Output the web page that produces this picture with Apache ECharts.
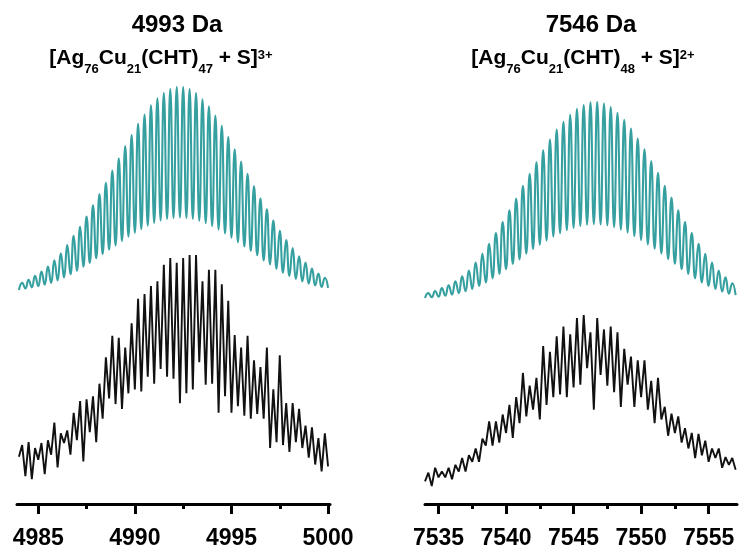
<!DOCTYPE html>
<html>
<head>
<meta charset="utf-8">
<script src="https://cdn.jsdelivr.net/npm/echarts/dist/echarts.min.js"></script>
<style>
  html, body { margin: 0; padding: 0; background: #ffffff; }
  #chart { width: 739px; height: 550px; }
</style>
</head>
<body>
<div id="chart"></div>
<script>
// ---- isotope patterns: relative intensity (%) at peak tops and valleys ----
// 4993 Da, charge 3+ (isotope spacing 1/3 Da), first valley at 4984 Da
const leftStart = 4984;
const leftSpacing = 1 / 3;
const leftSimPeaks = [4,5.5,7.5,9.5,12,15,18.5,22.5,27,31.5,36.5,42,47.5,53,59,65,71,76.5,82,86.5,91,94.5,97,99,100,100,99,97,94,90.5,86,81,75.5,69.5,63.5,57.5,51.5,45.5,40,34.5,29.5,25,21,17,14,11,8.5,6.5];
const leftSimValleys = [0.5,1.2,1.8,2.4,3.1,4,5.2,6.6,8.2,9.9,11.9,13.7,16.1,18.1,20.2,22.3,24.5,26.6,28.5,30.3,32,33.4,34.5,35.3,35.8,36,35.8,35.3,34.4,33.2,31.8,30.1,28.2,26.1,23.9,21.8,19.6,17.5,15,13,10.9,9,7.4,5.9,4.7,3.6,2.7,2,1.5];
const leftExpPeaks = [17.0,18.3,15.7,17.9,19.1,26.8,22.1,23.4,31.1,36.2,37.0,38.3,43.8,55.3,64.7,63.8,59.6,70.2,80.9,83.0,86.4,88.5,95.7,98.7,96.6,98.7,100,100,88.5,93.6,93.6,87.2,80.0,65.1,59.6,64.7,54.0,51.1,59.6,41.3,56.2,35.3,35.3,32.8,25.5,24.7,20.0,22.1];
const leftExpValleys = [11.9,3.4,2.1,10.6,4.3,12.8,7.2,17.9,12.8,19.1,9.8,22.6,18.3,28.5,37.4,34.9,32.8,39.6,41.3,40.4,46.8,43.8,50.2,46.8,46.0,35.3,39.6,41.3,53.2,43.4,43.8,31.1,38.3,31.1,34.0,29.8,28.5,30.6,28.5,15.7,18.3,17.0,14.0,18.3,15.7,11.5,8.5,5.5,7.7];

// 7546 Da, charge 2+ (isotope spacing 1/2 Da), first valley at 7534 Da
const rightStart = 7534;
const rightSpacing = 1 / 2;
const rightSimPeaks = [3,4,5.5,7,9,11.5,14.5,18.5,23,28,33.5,39,45,51,57.5,63.5,69.5,75.5,81,86,90,93.5,96.5,98.5,99.8,100,99.2,97.4,94.5,91,86.5,81.5,76,70,64,57.5,51.5,45,39,33.5,28,23,18.5,14.5,11,8];
const rightSimValleys = [0.5,0.9,1.2,1.7,2.2,3,3.9,5.1,6.6,8.4,10.5,12.7,15.1,17.8,20.1,23,25.3,27.6,29.7,31.7,33.4,34.9,36.1,37.1,37.7,38,37.8,37.4,36.5,35.2,33.7,31.9,29.9,27.7,25.5,23.1,20.2,17.9,15.1,12.7,10.5,8.4,6.6,5.1,3.8,2.7,2];
const rightExpPeaks = [9.4,12.2,10.0,12.2,13.9,17.8,19.4,23.3,28.9,38.9,38.9,42.8,48.3,52.8,66.7,59.4,63.9,82.2,78.9,87.8,93.3,88.9,98.3,100,90.0,98.3,91.7,93.3,90.0,80.6,76.1,73.9,73.9,62.2,63.9,47.2,43.3,41.7,35.0,32.2,31.7,27.8,23.3,23.3,18.3,17.8];
const rightExpValleys = [4.4,1.7,6.7,6.7,5.6,10.0,10.0,15.6,15.6,25.0,25.0,26.7,32.2,29.4,37.8,41.7,45.6,40.0,48.3,52.8,54.4,52.8,58.3,60.0,69.4,45.6,65.6,59.4,55.6,47.2,60.0,47.2,52.8,45.6,37.8,40.0,30.6,32.2,26.7,23.3,17.8,19.4,15.6,17.8,12.2,13.9,11.1];

// ---- axes ----
const leftRange = [4983.9, 5000.1];
const rightRange = [7534, 7557.1];
const leftMajorTicks = [4985, 4990, 4995, 5000];
const leftMinorTicks = [4987.5, 4992.5, 4997.5];
const rightMajorTicks = [7535, 7540, 7545, 7550, 7555];
const rightMinorTicks = [7537.5, 7542.5, 7547.5, 7552.5];

// interleave valleys and peaks into one m/z trace
function trace(start, spacing, peaks, valleys) {
  const out = [];
  for (let i = 0; i < valleys.length; i++) {
    out.push([start + i * spacing, valleys[i]]);
    if (i < peaks.length) out.push([start + (i + 0.5) * spacing, peaks[i]]);
  }
  return out;
}

const FONT = '"Liberation Sans", Arial, sans-serif';
const teal = '#36a0a0';

function hiddenX(grid, range) {
  return { gridIndex: grid, type: 'value', min: range[0], max: range[1], show: false };
}
function majorX(grid, range, ticks, offset) {
  return {
    gridIndex: grid, type: 'value', min: range[0], max: range[1], position: 'bottom', offset: offset,
    axisLine: { show: true, onZero: false, lineStyle: { color: '#000', width: 3 } },
    axisTick: { show: true, length: 10, customValues: ticks, lineStyle: { color: '#000', width: 3 } },
    axisLabel: { show: true, customValues: ticks, margin: 23, fontSize: 23, fontWeight: 'bold', color: '#000',
      fontFamily: FONT, formatter: function (v) { return String(v); } },
    splitLine: { show: false }
  };
}
function minorX(grid, range, ticks, offset) {
  return {
    gridIndex: grid, type: 'value', min: range[0], max: range[1], position: 'bottom', offset: offset,
    axisLine: { show: false, onZero: false },
    axisTick: { show: true, length: 5, customValues: ticks, lineStyle: { color: '#000', width: 3 } },
    axisLabel: { show: false },
    splitLine: { show: false }
  };
}
function hiddenY(grid) {
  return { gridIndex: grid, type: 'value', min: 0, max: 100, show: false };
}

function titleBlock(cx1, cx2, mass, sub3, charge) {
  const m = { fontSize: 21, fontWeight: 'bold', fontFamily: FONT, fill: '#000' };
  const s = { fontSize: 13, fontWeight: 'bold', fontFamily: FONT, fill: '#000', padding: [22, 0, 0, 0] };
  const p = { fontSize: 13, fontWeight: 'bold', fontFamily: FONT, fill: '#000', padding: [0, 0, 6, 0] };
  return [
    { type: 'text', x: cx1, y: 25, style: { text: mass, font: 'bold 24px ' + FONT, fill: '#000', align: 'center', verticalAlign: 'middle' } },
    { type: 'text', x: cx2, y: 58, style: {
        text: '{m|[Ag}{s|76}{m|Cu}{s|21}{m|(CHT)}{s|' + sub3 + '}{m| + S]}{p|' + charge + '}',
        align: 'center', verticalAlign: 'middle', rich: { m: m, s: s, p: p } } }
  ];
}

const chart = echarts.init(document.getElementById('chart'), null, { renderer: 'canvas' });
chart.setOption({
  animation: false,
  backgroundColor: '#ffffff',
  grid: [
    { left: 17, width: 313, top: 87, height: 204 },
    { left: 17, width: 313, top: 255, height: 235 },
    { left: 425, width: 312, top: 102, height: 197 },
    { left: 425, width: 312, top: 315, height: 180 }
  ],
  xAxis: [
    hiddenX(0, leftRange),
    majorX(1, leftRange, leftMajorTicks, 20),
    minorX(1, leftRange, leftMinorTicks, 20),
    hiddenX(2, rightRange),
    majorX(3, rightRange, rightMajorTicks, 15),
    minorX(3, rightRange, rightMinorTicks, 15)
  ],
  yAxis: [hiddenY(0), hiddenY(1), hiddenY(2), hiddenY(3)],
  series: [
    { type: 'line', xAxisIndex: 0, yAxisIndex: 0, showSymbol: false, smooth: 0.5,
      lineStyle: { color: teal, width: 2.1 }, data: trace(leftStart, leftSpacing, leftSimPeaks, leftSimValleys) },
    { type: 'line', xAxisIndex: 1, yAxisIndex: 1, showSymbol: false,
      lineStyle: { color: '#111', width: 1.9 }, data: trace(leftStart, leftSpacing, leftExpPeaks, leftExpValleys) },
    { type: 'line', xAxisIndex: 3, yAxisIndex: 2, showSymbol: false, smooth: 0.5,
      lineStyle: { color: teal, width: 2.1 }, data: trace(rightStart, rightSpacing, rightSimPeaks, rightSimValleys) },
    { type: 'line', xAxisIndex: 4, yAxisIndex: 3, showSymbol: false,
      lineStyle: { color: '#111', width: 1.9 }, data: trace(rightStart, rightSpacing, rightExpPeaks, rightExpValleys) }
  ],
  graphic: titleBlock(177, 161, '4993 Da', '47', '3+').concat(titleBlock(591, 583, '7546 Da', '48', '2+'))
});
</script>
</body>
</html>
